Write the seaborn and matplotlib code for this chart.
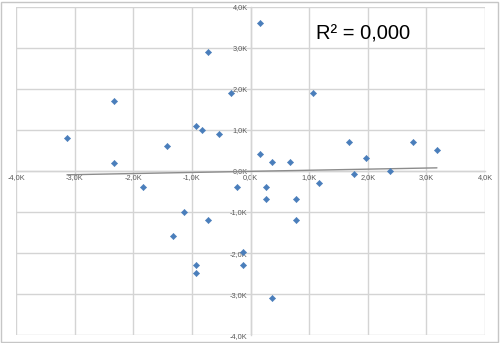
import numpy as np
import pandas as pd
import matplotlib
matplotlib.use('Agg')
import matplotlib.pyplot as plt
import matplotlib.ticker as mticker
from matplotlib.patches import Rectangle
import seaborn as sns

# data (thousands)
x_vals = [-3.13, -2.33, -2.33, -1.43, -0.93, -0.83, -0.73, -0.53, -0.33,
          0.17, 1.07, 0.17, 0.37, 0.67, 1.68, 1.97, 2.77, 3.18, 1.77, 2.38,
          -1.83, -1.13, -0.73, -1.33, -0.93, -0.93, -0.23, -0.12, -0.12,
          0.27, 0.27, 0.78, 0.78, 0.37, 1.17]
y_vals = [0.80, 1.70, 0.20, 0.61, 1.10, 1.01, 2.90, 0.91, 1.90,
          3.60, 1.90, 0.41, 0.21, 0.21, 0.71, 0.31, 0.71, 0.50, -0.07, 0.01,
          -0.39, -0.99, -1.19, -1.59, -2.29, -2.49, -0.39, -1.98, -2.29,
          -0.39, -0.69, -0.69, -1.19, -3.09, -0.29]
r2_label = "R² = 0,000"

df = pd.DataFrame({'x': x_vals, 'y': y_vals})

sns.set_style('white')
plt.rcParams['font.family'] = ['Liberation Sans', 'DejaVu Sans']

fig = plt.figure(figsize=(5.0, 3.43), dpi=100)
ax = fig.add_axes([0.032, 0.023, 0.938, 0.957])

grid_col = '#d4d4d4'
# linear trendline over the data range
sns.regplot(data=df, x='x', y='y', ax=ax, scatter=False, ci=None,
            line_kws={'color': '#8c8c8c', 'lw': 1.0, 'zorder': 3})
sns.scatterplot(data=df, x='x', y='y', ax=ax, marker='D', s=10,
                color='#4a7ebb', edgecolor='#4a7ebb', linewidth=0.4, zorder=4)

ax.set_xlim(-4, 4)
ax.set_ylim(-4, 4)
ax.xaxis.set_major_locator(mticker.MultipleLocator(1))
ax.yaxis.set_major_locator(mticker.MultipleLocator(1))
fmt = mticker.FuncFormatter(lambda v, p: f"{v:.1f}K".replace('.', ','))
ax.xaxis.set_major_formatter(fmt)
ax.yaxis.set_major_formatter(fmt)

ax.grid(True, color=grid_col, lw=1.0)
for gl in ax.get_xgridlines() + ax.get_ygridlines():
    gl.set_clip_on(False)

for s in ['top', 'right']:
    ax.spines[s].set_visible(False)
for s in ['left', 'bottom']:
    ax.spines[s].set_position('zero')
    ax.spines[s].set_color(grid_col)
    ax.spines[s].set_linewidth(1.0)

ax.tick_params(axis='both', length=0, labelsize=5.3, labelcolor='#595959', pad=2)
ax.set_xlabel('')
ax.set_ylabel('')

ax.text(0.64, 0.947, r2_label, transform=ax.transAxes, fontsize=14.5,
        ha='left', va='top', color='#000000')

fig.patches.append(Rectangle((0.002, 0.004), 0.994, 0.99, transform=fig.transFigure,
                             fill=False, edgecolor='#c6c6c6', lw=1.0))

fig.savefig('out.png', dpi=100)
